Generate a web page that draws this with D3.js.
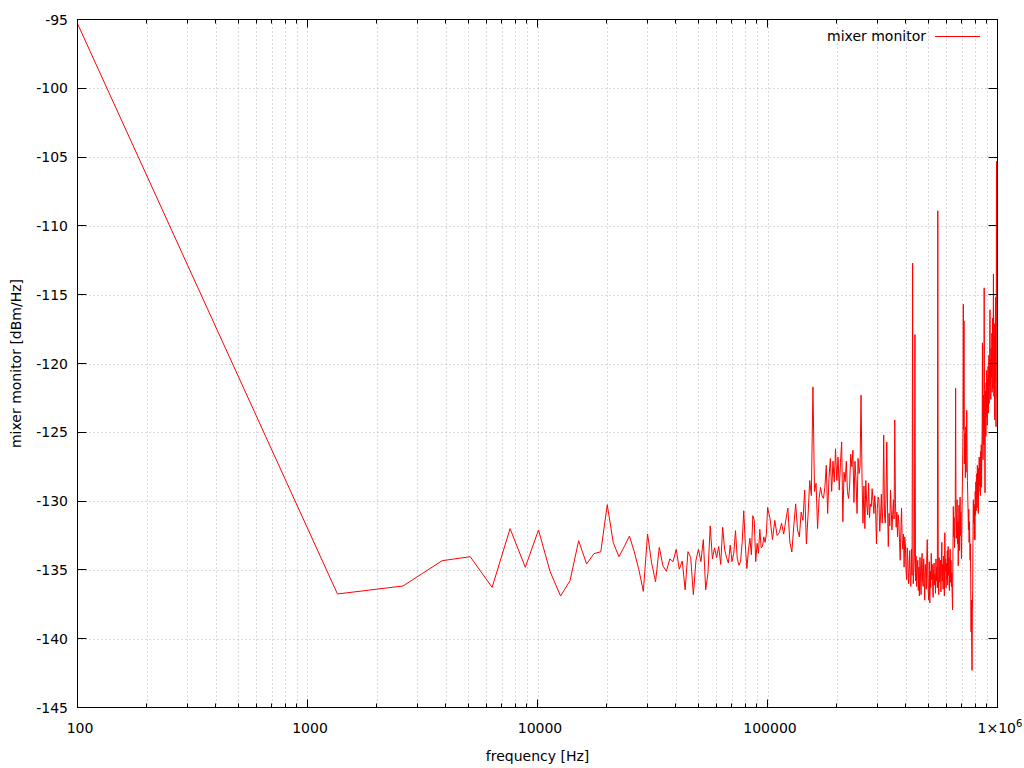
<!DOCTYPE html>
<html><head><meta charset="utf-8">
<script src="https://cdn.jsdelivr.net/npm/d3@7"></script>
<style>
body{margin:0;background:#fff}
svg{display:block}
text{font-family:"DejaVu Sans",sans-serif;font-size:14px;fill:#000}
</style>
</head><body>
<svg id="chart" width="1024" height="768"></svg>
<script>
// ---- data ----
const seriesName = "mixer monitor";
const baseFreqHz = 100;          // first bin frequency
const startValues = [-95.3];
const lowStepHz = 1250;          // bins 100 + k*1250 Hz up to ~100 kHz
const lowValues = [
-136.75,-136.17,-134.33,-134.04,-136.27,-132.0,-134.81,-132.1,-135.13,-136.9,
-135.78,-132.88,-134.57,-133.82,-133.68,-130.26,-133.02,-134.04,-133.3,-132.54,
-133.68,-135.0,-136.56,-132.39,-134.5,-135.86,-133.36,-134.7,-135.1,-134.2,
-134.4,-133.5,-134.95,-134.35,-136.45,-133.67,-134.1,-136.8,-134.3,-133.5,
-134.4,-132.8,-136.45,-135.24,-131.8,-134.2,-133.4,-134.1,-133.3,-134.6,
-131.9,-133.5,-134.1,-134.5,-133.2,-134.4,-133.8,-132.15,-134.15,-134.66,
-134.4,-133.0,-130.7,-133.2,-134.9,-133.6,-132.7,-133.9,-131.06,-131.4,
-134.4,-133.07,-133.8,-132.05,-133.4,-133.3,-132.6,-133.0,-132.4,-130.46
];
const highStartHz = 100100;
const highStepHz = 2500;         // ~102.6 kHz .. 1 MHz
const highValues = [
-131.3,-132.8,-131.4,-132.5,-132.3,-131.6,-132.4,-131.4,-130.5,-133.0,
-133.7,-131.8,-130.2,-132.1,-132.6,-130.8,-131.4,-129.2,-133.1,-131.0,
-128.5,-129.6,-121.7,-129.3,-128.7,-132.0,-129.8,-129.0,-129.6,-129.8,
-129.0,-127.4,-130.9,-128.3,-126.9,-129.3,-127.1,-128.6,-126.2,-128.5,
-126.8,-129.2,-127.2,-125.7,-131.5,-127.9,-128.6,-127.1,-129.3,-129.8,
-128.9,-126.6,-127.5,-126.3,-130.1,-127.1,-128.5,-130.9,-126.9,-128.0,
-127.5,-122.3,-128.3,
-131.6,-128.9,-132.0,-128.5,-130.2,-131.0,-128.7,-131.2,-130.2,-130.4,
-129.1,-130.0,-130.9,-129.6,-130.5,-133.1,-130.6,-129.7,-129.9,-132.2,
-131.1,-129.5,-131.6,-130.4,-125.2,-131.0,-131.6,-129.8,-125.7,-130.5,
-133.3,-130.9,-131.8,-129.2,-130.6,-132.1,-131.0,-129.9,-131.3,-124.1,
-130.2,-131.9,-130.8,-132.6,-131.0,-131.6,-133.0,-134.3,-132.1,-130.5,
-132.8,-133.5,-132.4,-134.8,-132.6,-133.1,-135.0,-135.7,-133.4,-134.3,
-136.0,-135.2,-133.6,-135.9,-136.2,-133.5,-135.4,-112.7,-136.0,-135.2,
-134.1,-117.9,-135.8,-134.0,-136.2,-135.0,-134.3,-136.5,-134.8,-136.9,
-134.1,-135.2,-136.8,-134.5,-133.8,-135.9,-136.2,-134.2,-135.6,-137.2,
-134.6,-135.2,-136.4,-134.0,-132.8,-135.5,-136.6,-137.2,-134.4,-137.4,
-135.1,-136.3,-133.8,-135.7,-134.6,-136.2,-137.0,-134.9,-134.5,-136.1,
-135.3,-136.7,-134.2,-135.8,-134.8,-136.3,-108.9,-135.4,-136.8,-134.1,
-135.9,-135.7,-134.3,-136.6,-135.0,-133.0,-135.8,-134.6,-136.4,-134.0,
-135.5,-136.9,-132.3,-135.1,-134.2,-136.3,-134.5,-135.7,-133.6,-136.1,
-133.3,-135.4,-134.1,-136.5,-134.7,-133.5,-135.9,-134.3,-136.2,-135.2,
-136.8,-137.9,-134.0,-130.4,-132.6,-131.2,-133.4,-131.8,-130.5,-121.8,
-130.9,-132.7,-131.0,-129.9,-133.1,-131.5,-134.7,-132.0,-130.3,-133.6,
-131.2,-129.7,-132.5,-130.8,-133.2,-134.2,-131.4,-129.5,-127.6,-125.4,
-115.7,-124.8,-116.9,-127.3,-125.1,-126.0,-128.3,-124.6,-127.9,-125.8,
-123.4,-126.7,-128.5,-129.7,-130.9,-132.1,-130.6,-133.0,-131.5,-132.8,
-134.3,-133.1,-136.4,-139.5,-137.2,-140.6,-142.3,-138.0,-136.5,-132.4,
-129.9,-131.6,-130.2,-132.8,-130.4,-132.8,-129.3,-131.0,-128.6,-130.7,
-129.1,-128.0,-130.5,-127.4,-129.8,-128.2,-130.9,-127.6,-129.3,-126.8,
-128.9,-127.3,-127.0,-129.6,-126.4,-128.7,-125.9,-129.0,-126.2,-124.8,
-118.5,-125.6,-127.0,-124.6,-122.3,-125.9,-114.5,-123.8,-126.5,-129.4,
-124.2,-122.0,-125.3,-121.4,-123.9,-120.5,-122.8,-124.5,-121.1,-123.2,
-120.2,-123.6,-121.7,-119.4,-122.9,-120.8,-118.6,-116.1,-121.5,-119.7,
-122.6,-118.9,-120.4,-121.0,-117.8,-122.1,-119.3,-116.7,-121.8,-118.2,
-113.5,-119.6,-122.4,-117.1,-120.9,-124.1,-118.0,-121.3,-115.2,-119.8,
-124.6,-116.4,-105.3,-113.4,-118.9,-122.5,-117.0
];
const yTickValues = [-145,-140,-135,-130,-125,-120,-115,-110,-105,-100,-95];
const xMajorTicks = [100,1000,10000,100000,1000000];
const xTickLabels = ["100","1000","10000","100000","1×10|6"];
const xTitle = "frequency [Hz]";
const yTitle = "mixer monitor [dBm/Hz]";

// ---- build points ----
const points = [];
startValues.forEach(v=>points.push({f:baseFreqHz, v}));
lowValues.forEach((v,i)=>points.push({f:baseFreqHz+(i+1)*lowStepHz, v}));
highValues.forEach((v,i)=>points.push({f:highStartHz+(i+1)*highStepHz, v}));

// ---- layout ----
const L=77.5, R=997.5, T=19.5, B=707.5;
const svg = d3.select("#chart");
const x = d3.scaleLog().domain([100,1e6]).range([L,R]);
const y = d3.scaleLinear().domain([-145,-95]).range([B,T]);

const xMinor = [];
xMajorTicks.slice(0,-1).forEach(d=>{ for(let k=2;k<10;k++) xMinor.push(d*k); });

// grid
const grid = svg.append("g").attr("stroke","#b4b4b4").attr("stroke-width",1).attr("stroke-dasharray","1,3");
xMajorTicks.concat(xMinor).filter(d=>d>100 && d<1e6).forEach(d=>{
  grid.append("line").attr("x1",Math.round(x(d))+0.5).attr("x2",Math.round(x(d))+0.5).attr("y1",T).attr("y2",B);
});
yTickValues.filter(d=>d>-145 && d<-95).forEach(d=>{
  grid.append("line").attr("x1",L).attr("x2",R).attr("y1",Math.round(y(d))+0.5).attr("y2",Math.round(y(d))+0.5);
});

// data line
svg.append("clipPath").attr("id","clip").append("rect").attr("x",L).attr("y",T).attr("width",R-L).attr("height",B-T);
const line = d3.line().x(d=>x(d.f)).y(d=>y(d.v));
svg.append("path").datum(points).attr("clip-path","url(#clip)")
  .attr("fill","none").attr("stroke","#ff0000").attr("stroke-width",1).attr("stroke-linejoin","miter")
  .attr("d",line);

// border
svg.append("rect").attr("x",L).attr("y",T).attr("width",R-L).attr("height",B-T)
  .attr("fill","none").attr("stroke","#000").attr("stroke-width",1);

// ticks
const tk = svg.append("g").attr("stroke","#000").attr("stroke-width",1);
xMajorTicks.forEach(d=>{
  const px=Math.round(x(d)-0.5)+0.5;
  tk.append("line").attr("x1",px).attr("x2",px).attr("y1",B).attr("y2",B-8);
  tk.append("line").attr("x1",px).attr("x2",px).attr("y1",T).attr("y2",T+8);
});
xMinor.forEach(d=>{
  const px=Math.round(x(d)-0.5)+0.5;
  tk.append("line").attr("x1",px).attr("x2",px).attr("y1",B).attr("y2",B-4);
  tk.append("line").attr("x1",px).attr("x2",px).attr("y1",T).attr("y2",T+4);
});
yTickValues.forEach(d=>{
  const py=Math.round(y(d)-0.5)+0.5;
  tk.append("line").attr("x1",L).attr("x2",L+9).attr("y1",py).attr("y2",py);
  tk.append("line").attr("x1",R).attr("x2",R-9).attr("y1",py).attr("y2",py);
});

// tick labels
yTickValues.forEach(d=>{
  svg.append("text").attr("x",68).attr("y",y(d)+5).attr("text-anchor","end").text(String(d));
});
xMajorTicks.forEach((d,i)=>{
  const parts = xTickLabels[i].split("|");
  const t = svg.append("text").attr("x",x(d)+2.5).attr("y",733).attr("text-anchor","middle");
  t.append("tspan").text(parts[0]);
  if(parts[1]) t.append("tspan").attr("dy",-6).attr("font-size","10px").text(parts[1]);
});

// axis titles
svg.append("text").attr("x",(L+R)/2).attr("y",761).attr("text-anchor","middle").text(xTitle);
svg.append("text").attr("transform",`translate(21,${(T+B)/2}) rotate(-90)`).attr("text-anchor","middle").text(yTitle);

// legend
svg.append("text").attr("x",926).attr("y",41).attr("text-anchor","end").text(seriesName);
svg.append("line").attr("x1",935).attr("x2",980).attr("y1",36.5).attr("y2",36.5).attr("stroke","#ff0000").attr("stroke-width",1);
</script>
</body></html>
